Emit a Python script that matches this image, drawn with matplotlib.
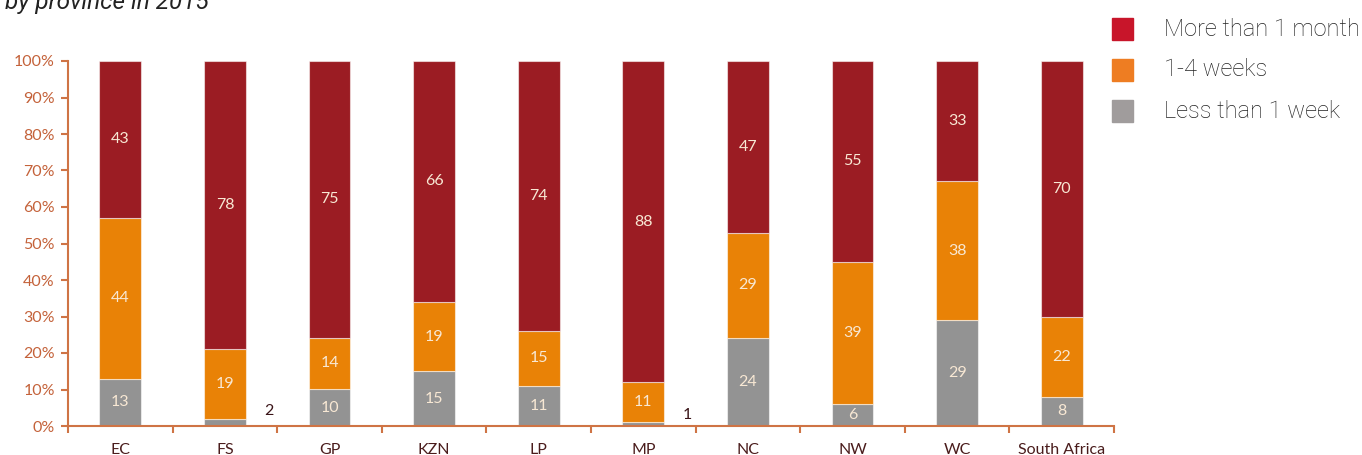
import matplotlib
matplotlib.use("Agg")
import matplotlib.pyplot as plt
import numpy as np
from matplotlib.patches import Rectangle

categories = ["EC", "FS", "GP", "KZN", "LP", "MP", "NC", "NW", "WC", "South Africa"]
less_1_week = [13, 2, 10, 15, 11, 1, 24, 6, 29, 8]
weeks_1_4 = [44, 19, 14, 19, 15, 11, 29, 39, 38, 22]
more_1_month = [43, 78, 75, 66, 74, 88, 47, 55, 33, 70]
series_names = ["More than 1 month", "1-4 weeks", "Less than 1 week"]
title = "by province in 2015"

W, H = 1362, 455
fig = plt.figure(figsize=(W / 100, H / 100), dpi=100)
ax = fig.add_axes([68 / W, (H - 426) / H, (1114 - 68) / W, (426 - 61) / H])

bar_cols = ["#939393", "#E98206", "#9B1C23"]
lab_col = "#F8E8D4"
dark_lab = "#3A1418"
axis_col = "#CF7445"
ytick_col = "#C4623A"
xtick_col = "#4A1C1C"
font = "Lato"

data = np.array([less_1_week, weeks_1_4, more_1_month], dtype=float)
totals = data.sum(axis=0)
frac = data / totals
x = np.arange(len(categories))
bottom = np.zeros(len(categories))
for s in range(3):
    ax.bar(x, frac[s], 0.4, bottom=bottom, color=bar_cols[s],
           edgecolor=(1, 1, 1, 0.55), linewidth=0.8, zorder=2)
    for i in range(len(categories)):
        v = data[s, i]
        if v >= 5:
            ax.text(x[i], bottom[i] + frac[s, i] / 2, f"{int(v)}", ha="center", va="center",
                    color=lab_col, fontsize=11.5, family=font, zorder=3)
        else:
            ax.text(x[i] + 0.42, bottom[i] + frac[s, i] + 0.02, f"{int(v)}", ha="center",
                    va="center", color=dark_lab, fontsize=11.5, family=font, zorder=3)
    bottom = bottom + frac[s]

ax.set_xlim(-0.5, len(categories) - 0.5)
ax.set_ylim(0, 1)
ax.set_yticks(np.linspace(0, 1, 11))
ax.set_yticklabels([f"{int(round(v * 100))}%" for v in np.linspace(0, 1, 11)],
                   family=font, fontsize=11.5, color=ytick_col)
ax.set_xticks(x)
ax.set_xticklabels(categories, family=font, fontsize=11.5, color=xtick_col)
ax.set_xticks(np.arange(-0.5, len(categories), 1), minor=True)
ax.tick_params(axis="x", which="major", length=0, pad=12)
ax.tick_params(axis="x", which="minor", length=5, width=1.5, color=axis_col, direction="out")
ax.tick_params(axis="y", length=5, width=1.5, color=axis_col, direction="out", pad=4.5)
for side in ["top", "right"]:
    ax.spines[side].set_visible(False)
for side in ["left", "bottom"]:
    ax.spines[side].set_color(axis_col)
    ax.spines[side].set_linewidth(1.5)

# title (cut off at top)
fig.text(5 / W, 1 - 9 / H, title, ha="left", va="baseline", fontsize=17.5,
         style="italic", color="#222222", family="Roboto")

# legend
leg_cols = ["#C8152A", "#EE7D22", "#A09C9C"]
rows_y = [29, 70, 111]
for c, name, yy in zip(leg_cols, series_names, rows_y):
    fig.patches.append(Rectangle((1112 / W, 1 - (yy + 11) / H), 21 / W, 22 / H,
                                 transform=fig.transFigure, color=c, figure=fig))
    fig.text(1164 / W, 1 - yy / H, name, ha="left", va="center", fontsize=17,
             color="#222222", family="Roboto", fontweight="light")

fig.savefig("out.png", dpi=100)
